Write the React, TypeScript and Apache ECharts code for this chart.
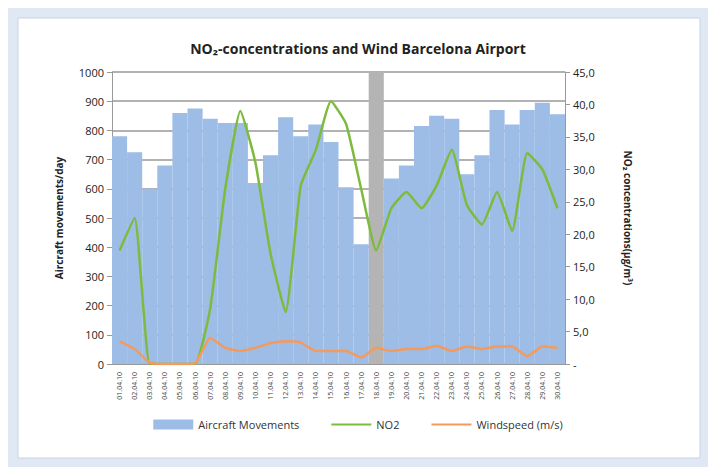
import React, { useEffect, useRef } from 'react';
import * as echarts from 'echarts';

const days = Array.from({ length: 30 }, (_, i) => String(i + 1).padStart(2, '0') + '.04.10');
const movements = [780, 725, 600, 680, 860, 875, 840, 825, 825, 620, 715, 845, 780, 820, 760, 605, 410, 0, 635, 680, 815, 850, 840, 650, 715, 870, 820, 870, 895, 855];
const closure = days.map((_, i) => (i === 17 ? 1000 : null));
const no2 = [17.5, 22.5, 0, 0, 0, 0, 8.5, 27, 39, 31, 17, 8, 27.5, 33, 40.5, 37, 27, 17.5, 24, 26.5, 24, 27.5, 33, 24.5, 21.5, 26.5, 20.5, 32.5, 30, 24];
const wind = [3.5, 2.3, 0.2, 0, 0, 0.1, 4.0, 2.5, 2.0, 2.5, 3.2, 3.5, 3.3, 2.0, 2.0, 2.0, 1.0, 2.5, 2.0, 2.3, 2.3, 2.8, 2.0, 2.7, 2.3, 2.7, 2.7, 1.2, 2.7, 2.5];

const font = 'Open Sans';

const App: React.FC = () => {
  const chartRef = useRef<HTMLDivElement>(null);

  useEffect(() => {
    const chart = echarts.init(chartRef.current!, null, { renderer: 'svg' });
    const option: echarts.EChartsOption = {
      animation: false,
      backgroundColor: '#dfe8f3',
      textStyle: { fontFamily: font },
      graphic: [
        { type: 'rect', shape: { x: 18, y: 18, width: 682, height: 440 }, style: { fill: '#fff', stroke: '#c6d3e3', lineWidth: 1 }, z: -10 },
      ],
      title: {
        text: 'NO₂-concentrations and Wind Barcelona Airport',
        left: 'center', top: 36,
        textStyle: { fontSize: 14, fontWeight: 'bold', color: '#222', fontFamily: font },
      },
      legend: {
        bottom: 40, itemGap: 32, itemWidth: 40, itemHeight: 10,
        data: [
          { name: 'Aircraft Movements', icon: 'rect' },
          { name: 'NO2', icon: 'path://M0,4L40,4L40,6L0,6Z' },
          { name: 'Windspeed (m/s)', icon: 'path://M0,4L40,4L40,6L0,6Z' },
        ],
        textStyle: { fontSize: 11, color: '#333' },
      },
      grid: { left: 112, right: 151, top: 72, bottom: 111 },
      xAxis: {
        type: 'category', data: days,
        axisTick: { show: false },
        axisLine: { lineStyle: { color: '#999' } },
        axisLabel: { rotate: 90, fontSize: 7, color: '#444', interval: 0 },
      },
      yAxis: [
        {
          type: 'value', min: 0, max: 1000, interval: 100,
          name: 'Aircraft movements/day', nameLocation: 'middle', nameGap: 48,
          nameTextStyle: { fontSize: 10, fontWeight: 'bold', color: '#222' },
          axisLine: { show: true, lineStyle: { color: '#999' } },
          axisTick: { show: true },
          axisLabel: { fontSize: 11, color: '#222', formatter: (v: number) => String(v) },
          splitLine: { lineStyle: { color: '#999', width: 1.5 } },
        },
        {
          type: 'value', min: 0, max: 45, interval: 5,
          name: 'NO₂ concentrations(µg/m³)', nameLocation: 'middle', nameGap: 58, nameRotate: -90,
          nameTextStyle: { fontSize: 10, fontWeight: 'bold', color: '#222' },
          axisLine: { show: true, lineStyle: { color: '#999' } },
          axisTick: { show: true },
          axisLabel: { fontSize: 11, color: '#222', formatter: (v: number) => (v === 0 ? '-' : v.toFixed(1).replace('.', ',')) },
          splitLine: { show: false },
        },
      ],
      series: [
        { name: 'Aircraft Movements', type: 'bar', data: movements, barCategoryGap: '0%', barGap: '-100%', itemStyle: { color: '#9dbde7' } },
        { name: 'closure', type: 'bar', data: closure, barCategoryGap: '0%', barGap: '-100%', itemStyle: { color: '#b4b4b4' }, z: 1 },
        { name: 'NO2', type: 'line', yAxisIndex: 1, data: no2, smooth: 0.15, showSymbol: false, lineStyle: { color: '#7dbb3c', width: 2.5 }, itemStyle: { color: '#7dbb3c' }, z: 5 },
        { name: 'Windspeed (m/s)', type: 'line', yAxisIndex: 1, data: wind, smooth: 0.15, showSymbol: false, lineStyle: { color: '#f39a5c', width: 2.5 }, itemStyle: { color: '#f39a5c' }, z: 5 },
      ],
    };
    chart.setOption(option);
    return () => chart.dispose();
  }, []);

  return <div ref={chartRef} style={{ width: 716, height: 475, margin: -8 }} />;
};

export default App;
